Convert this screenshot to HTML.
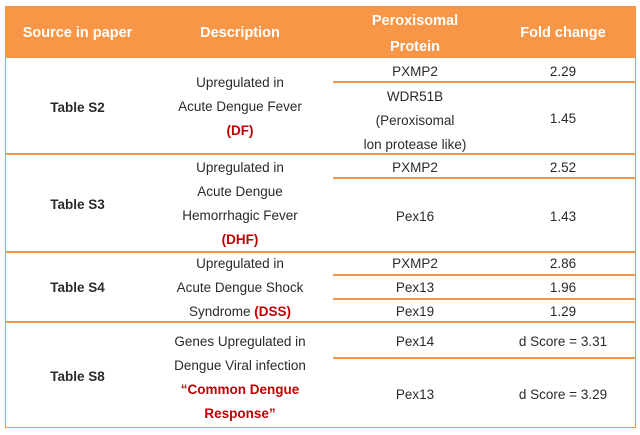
<!DOCTYPE html>
<html><head><meta charset="utf-8"><style>
body{margin:0;background:#fff;width:640px;height:435px;position:relative;font-family:"Liberation Sans",sans-serif;color:#2a2a2a;}
.b{position:absolute;left:5px;top:6px;width:629px;height:420px;border:1px solid #F79646;}
.h{position:absolute;left:5px;top:6px;width:631px;height:52px;background:#F79646;}
.l{position:absolute;height:1.5px;background:#F79646;}
.t{position:absolute;text-align:center;font-size:13.5px;line-height:24px;}
.hd{color:#fff;font-weight:bold;font-size:14.5px;line-height:26px;}
.bd{font-weight:bold;}
.r{color:#C00000;font-weight:bold;}
</style></head><body>
<div class="b"></div>
<div class="h"></div>
<div class="t hd" style="left:5px;width:145px;top:20px">Source in paper</div>
<div class="t hd" style="left:160px;width:160px;top:20px">Description</div>
<div class="t hd" style="left:335px;width:160px;top:8px">Peroxisomal<br>Protein</div>
<div class="t hd" style="left:490px;width:146px;top:20px">Fold change</div>

<div class="l" style="left:5px;width:631px;top:153px"></div>
<div class="l" style="left:5px;width:631px;top:251px"></div>
<div class="l" style="left:5px;width:631px;top:321px"></div>
<div class="l" style="left:333px;width:303px;top:81px"></div>
<div class="l" style="left:333px;width:303px;top:177px"></div>
<div class="l" style="left:333px;width:303px;top:274px"></div>
<div class="l" style="left:333px;width:303px;top:298px"></div>
<div class="l" style="left:333px;width:303px;top:357px"></div>

<div class="t bd" style="left:5px;width:145px;top:96px">Table S2</div>
<div class="t" style="left:160px;width:160px;top:71px">Upregulated in<br>Acute Dengue Fever<br><span class="r">(DF)</span></div>
<div class="t" style="left:335px;width:160px;top:60px">PXMP2</div>
<div class="t" style="left:490px;width:146px;top:60px">2.29</div>
<div class="t" style="left:335px;width:160px;top:85px">WDR51B<br>(Peroxisomal<br>lon protease like)</div>
<div class="t" style="left:490px;width:146px;top:107px">1.45</div>

<div class="t bd" style="left:5px;width:145px;top:193px">Table S3</div>
<div class="t" style="left:160px;width:160px;top:156px">Upregulated in<br>Acute Dengue<br>Hemorrhagic Fever<br><span class="r">(DHF)</span></div>
<div class="t" style="left:335px;width:160px;top:156px">PXMP2</div>
<div class="t" style="left:490px;width:146px;top:156px">2.52</div>
<div class="t" style="left:335px;width:160px;top:205px">Pex16</div>
<div class="t" style="left:490px;width:146px;top:205px">1.43</div>

<div class="t bd" style="left:5px;width:145px;top:276px">Table S4</div>
<div class="t" style="left:160px;width:160px;top:252px">Upregulated in<br>Acute Dengue Shock<br>Syndrome <span class="r">(DSS)</span></div>
<div class="t" style="left:335px;width:160px;top:252px">PXMP2</div>
<div class="t" style="left:490px;width:146px;top:252px">2.86</div>
<div class="t" style="left:335px;width:160px;top:276px">Pex13</div>
<div class="t" style="left:490px;width:146px;top:276px">1.96</div>
<div class="t" style="left:335px;width:160px;top:300px">Pex19</div>
<div class="t" style="left:490px;width:146px;top:300px">1.29</div>

<div class="t bd" style="left:5px;width:145px;top:365px">Table S8</div>
<div class="t" style="left:160px;width:160px;top:330px">Genes Upregulated in<br>Dengue Viral infection<br><span class="r">“Common Dengue<br>Response”</span></div>
<div class="t" style="left:335px;width:160px;top:330px">Pex14</div>
<div class="t" style="left:490px;width:146px;top:330px">d Score = 3.31</div>
<div class="t" style="left:335px;width:160px;top:383px">Pex13</div>
<div class="t" style="left:490px;width:146px;top:383px">d Score = 3.29</div>
</body></html>
